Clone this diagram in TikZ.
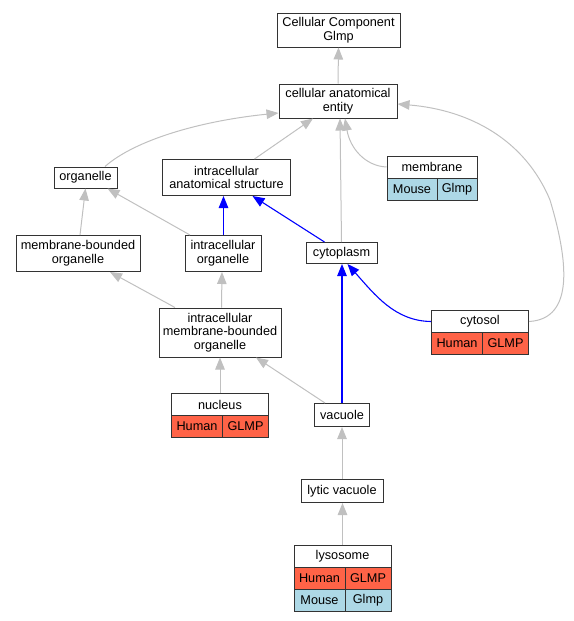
\documentclass[tikz,border=0pt]{standalone}
\usepackage{fontspec}
\setmainfont{Liberation Sans}
\usetikzlibrary{arrows.meta}
\definecolor{human}{HTML}{FF6347}
\definecolor{mouse}{HTML}{ADD8E6}
\definecolor{edgegray}{HTML}{C0C0C0}
\definecolor{border}{HTML}{333333}
\definecolor{partblue}{HTML}{0000FF}
\tikzset{
  box/.style={draw=border, line width=1pt, fill=white, inner sep=0pt, align=center,
    font=\fontsize{12.7}{13.6}\selectfont},
  hcell/.style={box, fill=human},
  mcell/.style={box, fill=mouse},
  isa/.style={draw=edgegray, line width=1pt, -{Triangle[length=12pt,width=9.5pt]}, color=edgegray},
  partof/.style={draw=partblue, line width=1.1pt, -{Triangle[length=12pt,width=9.5pt]}, color=partblue},
}
\begin{document}
\begin{tikzpicture}[x=1pt,y=-1pt]
\useasboundingbox (0,0) rectangle (573,621);
% plain nodes
\node[box, minimum width=123pt, minimum height=34pt] (cc) at (338.5,30) {Cellular Component\\Glmp};
\node[box, minimum width=118pt, minimum height=34pt] (cae) at (338,101) {cellular anatomical\\entity};
\node[box, minimum width=63pt, minimum height=21pt] (org) at (85.5,177.5) {organelle};
\node[box, minimum width=128pt, minimum height=36pt] (ias) at (226.5,177.5) {intracellular\\anatomical structure};
\node[box, minimum width=124pt, minimum height=36pt] (mbo) at (78,253.5) {membrane-bounded\\organelle};
\node[box, minimum width=76pt, minimum height=36pt] (io) at (223,253.5) {intracellular\\organelle};
\node[box, minimum width=71pt, minimum height=21pt] (cyto) at (341.5,253) {cytoplasm};
\node[box, minimum width=122pt, minimum height=49pt] (imbo) at (220,332.5) {intracellular\\membrane-bounded\\organelle};
\node[box, minimum width=55pt, minimum height=23pt] (vac) at (342,415) {vacuole};
\node[box, minimum width=82pt, minimum height=23pt] (lytic) at (342,491) {lytic vacuole};
% membrane record
\node[box, minimum width=90pt, minimum height=22pt] (mem) at (432,167) {membrane};
\node[mcell, minimum width=50pt, minimum height=22pt] (memA) at (412,189) {Mouse};
\node[mcell, minimum width=40pt, minimum height=22pt] (memB) at (457,189) {Glmp};
% cytosol record
\node[box, minimum width=97pt, minimum height=22pt] (cytosol) at (480,321.5) {cytosol};
\node[hcell, minimum width=51pt, minimum height=22pt] (cytosolA) at (457,343.5) {Human};
\node[hcell, minimum width=46pt, minimum height=22pt] (cytosolB) at (505.5,343.5) {GLMP};
% nucleus record
\node[box, minimum width=97pt, minimum height=22pt] (nuc) at (220,404.5) {nucleus};
\node[hcell, minimum width=51pt, minimum height=22pt] (nucA) at (197,426.5) {Human};
\node[hcell, minimum width=46pt, minimum height=22pt] (nucB) at (245.5,426.5) {GLMP};
% lysosome record
\node[box, minimum width=97pt, minimum height=22pt] (lys) at (342.5,556) {lysosome};
\node[hcell, minimum width=51pt, minimum height=22pt] (lysA) at (319.5,578) {Human};
\node[hcell, minimum width=46pt, minimum height=22pt] (lysB) at (368,578) {GLMP};
\node[mcell, minimum width=51pt, minimum height=22pt] (lysC) at (319.5,600) {Mouse};
\node[mcell, minimum width=46pt, minimum height=22pt] (lysD) at (368,600) {Glmp};

% is_a edges (gray)
\draw[isa] (cae.north) -- (cc.south);
\draw[isa] ([xshift=19.5pt]org.north) .. controls (135,140) and (200,121) .. ([yshift=-12pt]cae.west);
\draw[isa] ([xshift=28pt]ias.north) -- ([xshift=-25pt]cae.south);
\draw[isa] (mem.west) .. controls (365,166) and (350,148) .. ([xshift=7pt]cae.south);
\draw[isa] (cyto.north) -- ([xshift=2pt]cae.south);
\draw[isa] (cytosol.east) .. controls (575,319) and (568,260) .. (550,200)
  .. controls (525,140) and (470,110) .. ([yshift=-3pt]cae.east);
\draw[isa] ([xshift=2pt]mbo.north) -- (org.south);
\draw[isa] ([xshift=-33pt]io.north) -- ([xshift=22pt]org.south);
\draw[isa] ([xshift=-45pt]imbo.north) -- ([xshift=32pt]mbo.south);
\draw[isa] ([xshift=1.5pt]imbo.north) -- ([xshift=-1pt]io.south);
\draw[isa] (nuc.north) -- (imbo.south);
\draw[isa] ([xshift=-17pt]vac.north) -- ([xshift=36pt]imbo.south);
\draw[isa] (lytic.north) -- (lytic.north |- vac.south);
\draw[isa] (lys.north) -- (lys.north |- lytic.south);
% part_of edges (blue)
\draw[partof] ([xshift=0.5pt]io.north) -- ([xshift=0.5pt]io.north |- ias.south);
\draw[partof] ([xshift=-17pt]cyto.north) -- ([xshift=26pt]ias.south);
\draw[partof] (vac.north) -- (vac.north |- cyto.south);
\draw[partof] (cytosol.west) .. controls (395,321) and (375,295) .. ([xshift=6pt]cyto.south);
\end{tikzpicture}
\end{document}
